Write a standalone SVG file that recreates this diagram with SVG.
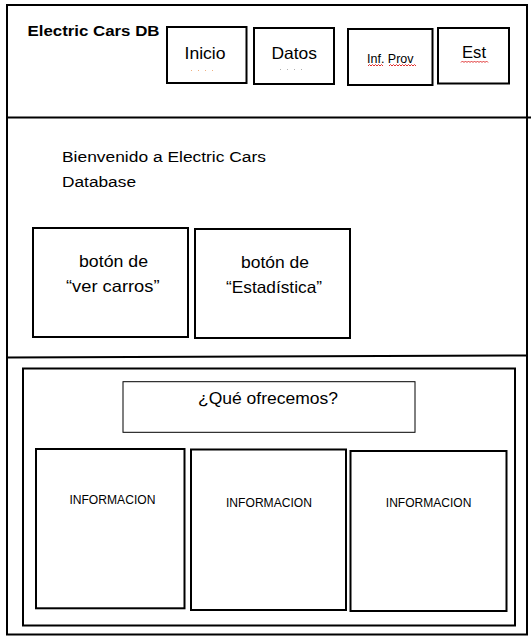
<svg xmlns="http://www.w3.org/2000/svg" width="531" height="639" viewBox="0 0 531 639">
<style>
.box{fill:#fff;stroke:#000;stroke-width:2}
.frame{fill:none;stroke:#000;stroke-width:2}
.t{font-family:"Liberation Sans",Arial,sans-serif;fill:#000}
.sq{fill:none;stroke:#e03030;stroke-width:1}
</style>
<rect width="531" height="639" fill="#fff"/>
<g id="frame">
<rect class="frame" x="7" y="5" width="520" height="629.5"/>
<line x1="7" y1="117.5" x2="531" y2="117.5" stroke="#000" stroke-width="2"/>
<line x1="7" y1="357.5" x2="527" y2="355.5" stroke="#000" stroke-width="2"/>
</g>
<g id="title"><text class="t" x="27.5" y="35.7" font-size="15.5" font-weight="bold" textLength="132" lengthAdjust="spacingAndGlyphs">Electric Cars DB</text></g>
<g id="nav-inicio">
<rect class="box" x="167" y="27" width="79.5" height="56"/>
<text class="t" x="184.5" y="59" font-size="16.5" textLength="41" lengthAdjust="spacingAndGlyphs">Inicio</text>
<line x1="191" y1="70.5" x2="213" y2="70.5" stroke="#f0b080" stroke-width="1" stroke-dasharray="1 6"/>
</g>
<g id="nav-datos">
<rect class="box" x="254" y="28" width="80" height="56"/>
<text class="t" x="271.5" y="58.5" font-size="16.5" textLength="45.5" lengthAdjust="spacingAndGlyphs">Datos</text>
<line x1="280" y1="69.5" x2="302" y2="69.5" stroke="#b0b0b0" stroke-width="1" stroke-dasharray="1 6"/>
</g>
<g id="nav-infprov">
<rect class="box" x="348" y="29" width="84.5" height="56"/>
<text class="t" x="367" y="62.5" font-size="12" textLength="46.5" lengthAdjust="spacingAndGlyphs">Inf. Prov</text>
<path class="sq" d="M368 66 l1.5 -1.5 l1.5 1.5 l1.5 -1.5 l1.5 1.5 l1.5 -1.5 l1.5 1.5 l1.5 -1.5 l1.5 1.5 l1.5 -1.5 l1.5 1.5"/>
<path class="sq" d="M389 66 l1.5 -1.5 l1.5 1.5 l1.5 -1.5 l1.5 1.5 l1.5 -1.5 l1.5 1.5 l1.5 -1.5 l1.5 1.5 l1.5 -1.5 l1.5 1.5 l1.5 -1.5 l1.5 1.5 l1.5 -1.5 l1.5 1.5 l1.5 -1.5 l1.5 1.5 l1.5 -1.5 l1.5 1.5"/>
</g>
<g id="nav-est">
<rect class="box" x="438" y="28" width="71" height="55.5"/>
<text class="t" x="462" y="58.3" font-size="16.5" textLength="24" lengthAdjust="spacingAndGlyphs">Est</text>
<path class="sq" d="M461 62.5 l1.5 -1.5 l1.5 1.5 l1.5 -1.5 l1.5 1.5 l1.5 -1.5 l1.5 1.5 l1.5 -1.5 l1.5 1.5 l1.5 -1.5 l1.5 1.5 l1.5 -1.5 l1.5 1.5 l1.5 -1.5 l1.5 1.5 l1.5 -1.5 l1.5 1.5 l1.5 -1.5 l1.5 1.5"/>
</g>
<g id="welcome">
<text class="t" x="62" y="161.7" font-size="15.5" textLength="204" lengthAdjust="spacingAndGlyphs">Bienvenido a Electric Cars</text>
<text class="t" x="62" y="186.7" font-size="15.5" textLength="74" lengthAdjust="spacingAndGlyphs">Database</text>
</g>
<g id="btn-ver-carros">
<rect class="box" x="33" y="228" width="155" height="109"/>
<text class="t" x="79" y="266.7" font-size="16.5" textLength="69" lengthAdjust="spacingAndGlyphs">botón de</text>
<text class="t" x="66" y="291.7" font-size="16.5" textLength="93.5" lengthAdjust="spacingAndGlyphs">“ver carros”</text>
</g>
<g id="btn-estadistica">
<rect class="box" x="195" y="229" width="155" height="109"/>
<text class="t" x="241" y="267.7" font-size="16.5" textLength="68" lengthAdjust="spacingAndGlyphs">botón de</text>
<text class="t" x="226" y="292.7" font-size="16.5" textLength="96" lengthAdjust="spacingAndGlyphs">“Estadística”</text>
</g>
<g id="offer-section">
<rect class="box" x="23" y="368.5" width="492" height="257"/>
</g>
<g id="que-ofrecemos">
<rect x="123" y="381.7" width="292" height="50.6" fill="#fff" stroke="#000" stroke-width="1"/>
<text class="t" x="198" y="404.3" font-size="16.5" textLength="140" lengthAdjust="spacingAndGlyphs">¿Qué ofrecemos?</text>
</g>
<g id="info-1">
<rect class="box" x="36" y="449" width="148.5" height="159.3"/>
<text class="t" x="69.4" y="504" font-size="12.5" textLength="86" lengthAdjust="spacingAndGlyphs">INFORMACION</text>
</g>
<g id="info-2">
<rect class="box" x="191" y="449.5" width="155" height="160.5"/>
<text class="t" x="226" y="506.7" font-size="12.5" textLength="86" lengthAdjust="spacingAndGlyphs">INFORMACION</text>
</g>
<g id="info-3">
<rect class="box" x="350.5" y="451" width="156" height="160"/>
<text class="t" x="385.8" y="506.7" font-size="12.5" textLength="85.6" lengthAdjust="spacingAndGlyphs">INFORMACION</text>
</g>
<g id="connectors"></g>
</svg>
